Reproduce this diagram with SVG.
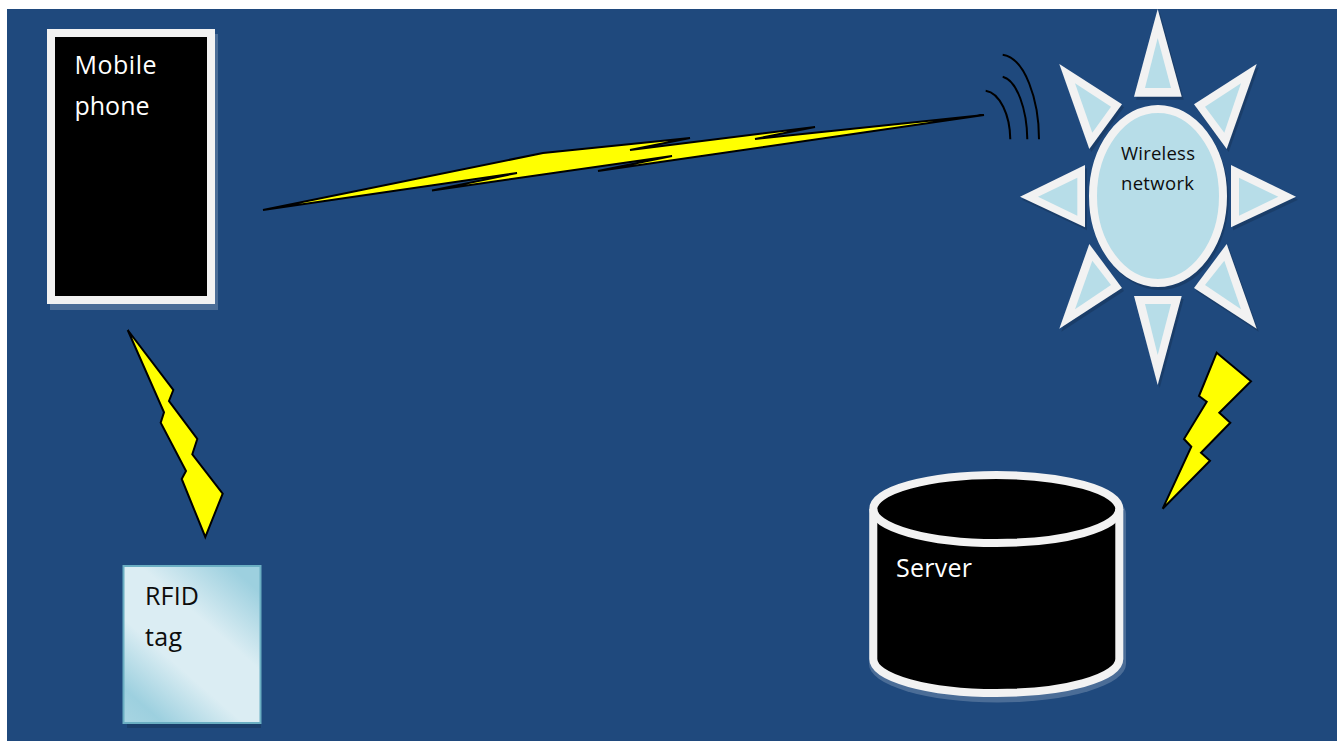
<svg xmlns="http://www.w3.org/2000/svg" width="1343" height="742" viewBox="0 0 1343 742">
<style>
.bolt{fill:#ffff00;stroke:#000;stroke-width:2;stroke-linejoin:miter;stroke-miterlimit:4}
.ray{fill:#f2f2f2}
.rayin{fill:#b7dde8}
.wave{fill:none;stroke:#000;stroke-width:2}
.lbl{font-family:"Open Sans","Noto Sans",sans-serif}
.w{fill:#fff;font-size:25px}
.k{fill:#0d0d0d}
.sh{fill:#0f243e;opacity:.3}
.shw{fill:#fff;opacity:.2}
</style>
<defs>
<linearGradient id="tagfill" gradientUnits="userSpaceOnUse" x1="261" y1="565" x2="123" y2="724">
<stop offset="0.1" stop-color="#9dd0df"/>
<stop offset="0.38" stop-color="#dbedf3"/>
<stop offset="0.62" stop-color="#dbedf3"/>
<stop offset="0.87" stop-color="#9dd0df"/>
<stop offset="1" stop-color="#a8d5e2"/>
</linearGradient>
</defs>
<rect width="1343" height="742" fill="#fff"/>
<rect x="7" y="9" width="1330" height="732" fill="#1f497d"/>

<g id="connectors">
<polygon class="bolt" points="263,210 543,153 690,138 630,150 815,127 755,139 984,115 598,171 672,156 432,190.5 517,173"/>
<path class="wave" d="M985.7,90.7C1000,93 1010,115 1010.3,139.3"/>
<path class="wave" d="M1002.7,76.7C1017,80 1027,110 1027.3,139.3"/>
<path class="wave" d="M1002.7,54.7C1025,58 1039,100 1039,139.3"/>
<polygon class="bolt" points="127.7,330 173.3,390 169,401 197.3,439 192.3,454.3 222.7,493.7 205.3,537 181.7,479 186,471 160.7,422.7 164,412.3"/>
<polygon class="bolt" points="1216.7,352.7 1251,381.3 1219.3,412.7 1230.3,422.7 1201,452.7 1210,460.7 1162.7,508.7 1191.3,446.7 1184,439 1206.7,401.7 1199,396"/>
</g>

<g id="mobile-phone">
<rect class="shw" x="50" y="34" width="168" height="276"/>
<rect x="47" y="29" width="168" height="275" fill="#f2f2f2"/>
<rect x="55" y="37" width="152" height="259" fill="#000"/>
<text class="lbl w" x="74.5" y="74" textLength="82">Mobile</text>
<text class="lbl w" x="74.5" y="115" textLength="75">phone</text>
</g>

<g id="rfid-tag">
<rect class="sh" x="127" y="569" width="134" height="159"/>
<rect x="123.5" y="566" width="137" height="157" fill="url(#tagfill)" stroke="#6aaec2" stroke-width="2"/>
<text class="lbl k" x="145" y="605" font-size="25" textLength="54">RFID</text>
<text class="lbl k" x="145" y="646" font-size="25" textLength="37">tag</text>
</g>

<g id="server">
<path class="shw" d="M869,514A127,38 0 0 1 1126,514V664A127,38 0 0 1 869,664Z"/>
<path d="M873.3,509A123,34 0 0 1 1119.3,509V659A123,34 0 0 1 873.3,659Z" fill="#000" stroke="#f2f2f2" stroke-width="8"/>
<path d="M873.3,509A123,34 0 0 0 1119.3,509" fill="none" stroke="#f2f2f2" stroke-width="8"/>
<text class="lbl w" x="896" y="577" textLength="76">Server</text>
</g>

<g id="wireless-network">
<g transform="translate(2,3)" class="sh">
<polygon points="1157.7,9 1181.7,96.7 1134,96.7"/>
<polygon points="1134,296 1181.7,296 1157.7,385"/>
<polygon points="1020,196.7 1085,165 1085,227.3"/>
<polygon points="1296,196.7 1231,165 1231,227.3"/>
<polygon points="1059.3,64 1122,104.3 1089.3,149"/>
<polygon points="1256.7,64 1194,104.3 1226.7,149"/>
<polygon points="1059.3,328.7 1089.3,244 1122,288"/>
<polygon points="1256.7,328.7 1226.7,244 1194,288"/>
<ellipse cx="1158" cy="196" rx="68.7" ry="91"/>
</g>
<polygon class="ray" points="1157.7,9 1181.7,96.7 1134,96.7"/>
<polygon class="rayin" points="1157.7,38 1171,88 1145,88"/>
<polygon class="ray" points="1134,296 1181.7,296 1157.7,385"/>
<polygon class="rayin" points="1145,304 1171,304 1157.7,355"/>
<polygon class="ray" points="1020,196.7 1085,165 1085,227.3"/>
<polygon class="rayin" points="1038,196.7 1077.3,177.7 1077.3,215.7"/>
<polygon class="ray" points="1296,196.7 1231,165 1231,227.3"/>
<polygon class="rayin" points="1278.3,196.7 1239,177.7 1239,215.7"/>
<polygon class="ray" points="1059.3,64 1122,104.3 1089.3,149"/>
<polygon class="rayin" points="1075,83.3 1111,106.7 1092.3,132.7"/>
<polygon class="ray" points="1256.7,64 1194,104.3 1226.7,149"/>
<polygon class="rayin" points="1241,83.3 1205,106.7 1224.3,132.7"/>
<polygon class="ray" points="1059.3,328.7 1089.3,244 1122,288"/>
<polygon class="rayin" points="1075,309.3 1092.3,260.7 1111,285"/>
<polygon class="ray" points="1256.7,328.7 1226.7,244 1194,288"/>
<polygon class="rayin" points="1241,309.3 1224.3,260.7 1205,285"/>
<ellipse cx="1158" cy="196" rx="65" ry="87" fill="#b7dde8" stroke="#f2f2f2" stroke-width="8"/>
<text class="lbl k" x="1121" y="160" font-size="18.5" textLength="74">Wireless</text>
<text class="lbl k" x="1121" y="190" font-size="18.5" textLength="73">network</text>
</g>
</svg>
